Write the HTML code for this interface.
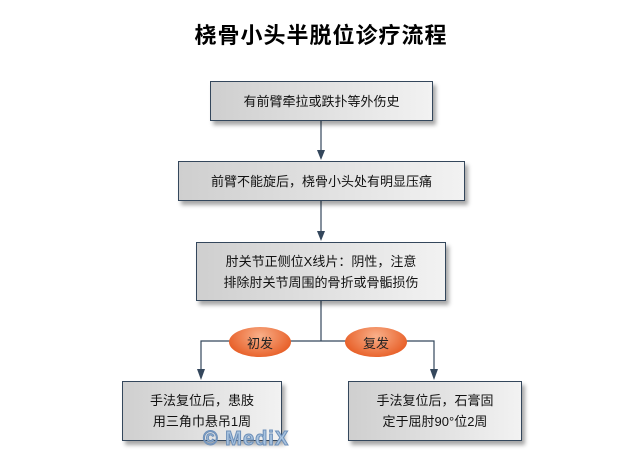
<!DOCTYPE html>
<html><head><meta charset="utf-8"><style>
body{margin:0;width:642px;height:450px;background:#fff;position:relative;overflow:hidden;font-family:"Liberation Sans","Noto Sans CJK SC",sans-serif;}
.t{position:absolute;left:0;width:642px;top:18px;text-align:center;font-size:22px;font-weight:bold;color:#000;letter-spacing:1px}
.b{position:absolute;box-sizing:border-box;border:1px solid #34475c;background:linear-gradient(90deg,#cfcfcf,#f2f2f2);box-shadow:3px 4px 4px rgba(0,0,0,0.35);display:flex;align-items:center;justify-content:center;text-align:center;font-size:13px;line-height:21px;color:#111}
.o{position:absolute;width:62px;height:30px;border-radius:50%;background:radial-gradient(ellipse at 50% 30%,#f9b08a,#e8612a 75%);display:flex;align-items:center;justify-content:center;font-size:13px;color:#222}
.w{position:absolute;left:203px;top:428px;font-size:20px;font-weight:bold;color:#a9c4e0;letter-spacing:1px;-webkit-text-stroke:1px #6d8fb8}
</style></head><body>
<div class="t">桡骨小头半脱位诊疗流程</div>
<svg width="642" height="450" style="position:absolute;left:0;top:0">
<g stroke="#34475c" stroke-width="1.2" fill="none">
<line x1="321" y1="121" x2="321" y2="152"/>
<line x1="321" y1="201" x2="321" y2="233"/>
<line x1="321" y1="301" x2="321" y2="341"/>
<polyline points="201,372 201,341 434,341 434,372"/>
</g>
<g fill="#34475c">
<polygon points="317,150 325,150 321,160"/>
<polygon points="317,231 325,231 321,241"/>
<polygon points="197,369 205,369 201,380"/>
<polygon points="430,369 438,369 434,380"/>
</g>
</svg>
<div class="b" style="left:210px;top:81px;width:223px;height:40px">有前臂牵拉或跌扑等外伤史</div>
<div class="b" style="left:178px;top:161px;width:287px;height:40px">前臂不能旋后，桡骨小头处有明显压痛</div>
<div class="b" style="left:196px;top:242px;width:250px;height:59px">肘关节正侧位X线片：阴性，注意<br>排除肘关节周围的骨折或骨骺损伤</div>
<div class="o" style="left:229px;top:327px">初发</div>
<div class="o" style="left:345px;top:327px">复发</div>
<div class="b" style="left:122px;top:381px;width:160px;height:60px">手法复位后，患肢<br>用三角巾悬吊1周</div>
<div class="b" style="left:348px;top:381px;width:174px;height:60px">手法复位后，石膏固<br>定于屈肘90°位2周</div>
<div class="w">© MediX</div>
</body></html>
